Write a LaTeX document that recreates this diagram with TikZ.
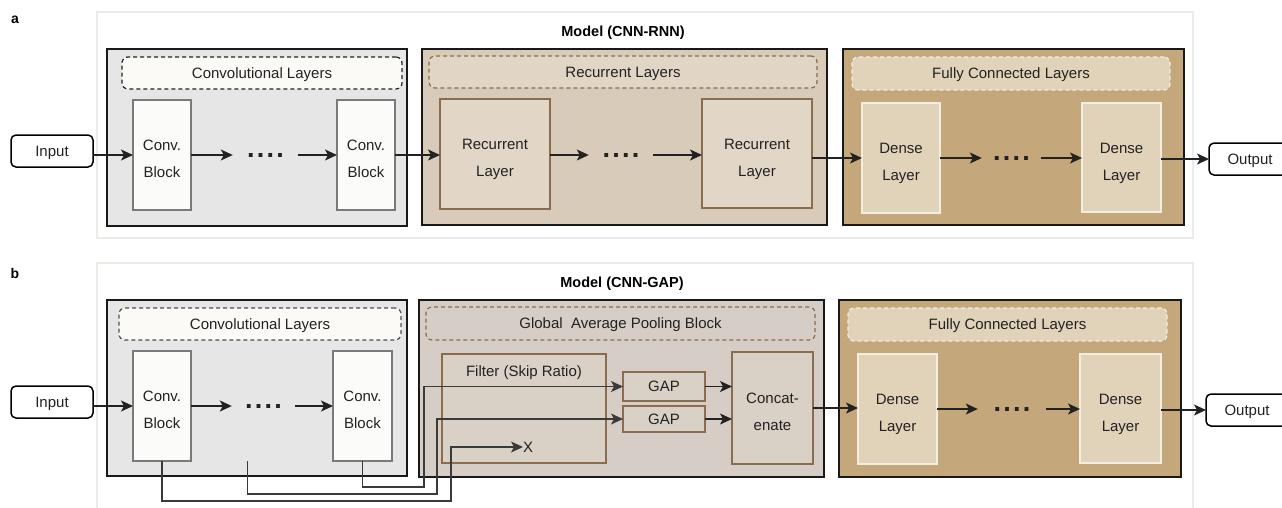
\documentclass[tikz,border=0pt]{standalone}
\usepackage{fontspec}
\setmainfont{Liberation Sans}
\usetikzlibrary{arrows.meta}

\definecolor{ink}{HTML}{222222}
\definecolor{wire}{HTML}{3A3A3A}
\definecolor{framec}{HTML}{ECEBE6}
\definecolor{convfill}{HTML}{E6E6E6}
\definecolor{convhead}{HTML}{FBFAF7}
\definecolor{blockfill}{HTML}{FBFBF9}
\definecolor{blockedge}{HTML}{7A7A7A}
\definecolor{recfill}{HTML}{D9CBB9}
\definecolor{rechead}{HTML}{E1D5C5}
\definecolor{recbox}{HTML}{E2D6C6}
\definecolor{brownedge}{HTML}{8A6C4E}
\definecolor{gapfill}{HTML}{D6CEC6}
\definecolor{gapbox}{HTML}{D9D0C6}
\definecolor{fcfill}{HTML}{C4A77B}
\definecolor{fchead}{HTML}{E1D3BA}
\definecolor{fcedge}{HTML}{F3EDE2}

\begin{document}
\begin{tikzpicture}[x=1pt,y=-1pt,
  sz/.style 2 args={minimum width=#1, minimum height=#2, inner sep=0pt, outer sep=0pt},
  txt/.style={font=\fontsize{15}{27}\selectfont, text=ink, align=center,
              text height=11pt, text depth=0.5pt},
  twoline/.style={txt, text height=45pt, text depth=0pt},
  ttl/.style={font=\fontsize{14.5}{17}\selectfont\bfseries, text=black},
  frame/.style={draw=framec, fill=white, line width=1.5pt},
  panel/.style={draw=black!90, line width=2pt},
  dashhead/.style={rounded corners=6pt, dash pattern=on 4pt off 3pt, line width=1.2pt},
  convblock/.style={draw=blockedge, fill=blockfill, line width=1.3pt},
  recblock/.style={draw=brownedge, fill=recbox, line width=1.3pt},
  gapblock/.style={draw=brownedge, fill=gapbox, line width=1.3pt},
  denseblock/.style={draw=fcedge, fill=fchead, line width=1.2pt},
  io/.style={draw=black, fill=white, rounded corners=5pt, line width=1.5pt},
  dotsnode/.style={font=\fontsize{27}{27}\selectfont\bfseries, text=ink, inner sep=0pt},
  arr/.style={draw=ink, line width=1.4pt, -{Stealth[length=12pt, width=11pt, inset=3pt]}},
  route/.style={draw=wire, line width=1.3pt, -{Stealth[length=12pt, width=11pt, inset=3pt]}}
]
\path[use as bounding box, clip] (0,0) rectangle (1282,507);
\fill[white] (0,0) rectangle (1282,507);

\newcommand{\fourdots}{.\hspace{2.2pt}.\hspace{2.2pt}.\hspace{2.2pt}.}

% ---------------- panel a: CNN-RNN ----------------
\node[frame, sz={1096}{226}] (frameA) at (645,125) {};
\node[font=\fontsize{14}{16}\selectfont\bfseries] (labA) at (15,20) {a};
\node[ttl] (titleA) at (623,33) {Model (CNN-RNN)};

% convolutional stage
\node[panel, fill=convfill, sz={300}{177}] (convA) at (257,137.5) {};
\node[dashhead, draw=ink, fill=convhead, sz={280}{32}, txt] (convHeadA) at (262,73) {Convolutional Layers};
\node[convblock, sz={58}{110}, twoline] (c1a) at (162,155) {Conv.\\Block};
\node[convblock, sz={58}{110}, twoline] (c2a) at (366,155) {Conv.\\Block};
\node[dotsnode, minimum width=65pt] (da1) at (265.5,155) {\fourdots};

% recurrent stage
\node[panel, fill=recfill, sz={405}{176}] (recA) at (624.5,137) {};
\node[dashhead, draw=brownedge, fill=rechead, sz={388}{32}, txt] (recHeadA) at (623,72) {Recurrent Layers};
\node[recblock, sz={110}{110}, twoline] (r1a) at (495,154) {Recurrent\\Layer};
\node[recblock, sz={110}{109}, twoline] (r2a) at (757,153.5) {Recurrent\\Layer};
\node[dotsnode, minimum width=64pt] (da2) at (621,155) {\fourdots};

% fully connected stage
\node[panel, fill=fcfill, sz={341}{176}] (fcA) at (1013.5,137) {};
\node[dashhead, draw=fcedge, fill=fchead, sz={318}{33}, txt] (fcHeadA) at (1011,73.5) {Fully Connected Layers};
\node[denseblock, sz={78}{110}, twoline] (d1a) at (901,158) {Dense\\Layer};
\node[denseblock, sz={79}{109}, twoline] (d2a) at (1121.5,157.5) {Dense\\Layer};
\node[dotsnode, minimum width=59pt] (da3) at (1011.5,158) {\fourdots};

% input / output
\node[io, sz={82}{32}, txt] (inA) at (52,151) {Input};
\node[io, sz={82}{32}, txt] (outA) at (1250,159) {Output};

\draw[arr] (c1a.west -| inA.east) -- (c1a.west);
\draw[arr] (c1a.east) -- (da1.west);
\draw[arr] (da1.east) -- (c2a.west);
\draw[arr] (c2a.east) -- (c2a.east -| r1a.west);
\draw[arr] (r1a.east |- da2) -- (da2.west);
\draw[arr] (da2.east) -- (da2.east -| r2a.west);
\draw[arr] (d1a.west -| r2a.east) -- (d1a.west);
\draw[arr] (d1a.east) -- (da3.west);
\draw[arr] (da3.east) -- (da3.east -| d2a.west);
\draw[arr] (outA.west -| d2a.east) -- (outA.west);

% ---------------- panel b: CNN-GAP ----------------
\node[frame, sz={1096}{249}] (frameB) at (645,387.5) {};
\node[font=\fontsize{14}{16}\selectfont\bfseries] (labB) at (15,273) {b};
\node[ttl] (titleB) at (622,284) {Model (CNN-GAP)};

% convolutional stage
\node[panel, fill=convfill, sz={300}{176}] (convB) at (257,388) {};
\node[dashhead, draw=ink!80, fill=convhead, sz={282}{32}, txt] (convHeadB) at (260,324) {Convolutional Layers};
\node[convblock, sz={58}{110}, twoline] (c1b) at (162,406) {Conv.\\Block};
\node[convblock, sz={59}{110}, twoline] (c2b) at (362.5,406) {Conv.\\Block};
\node[dotsnode, minimum width=63pt] (db1) at (263.5,406) {\fourdots};

% global average pooling stage
\node[panel, fill=gapfill, sz={405}{177}] (gapP) at (621.5,388.5) {};
\node[dashhead, draw=brownedge, fill=gapfill, sz={389}{33}, txt] (gapHead) at (620.5,323.5) {Global\ \ Average Pooling Block};
\node[gapblock, sz={164}{109}] (filter) at (524,408.5) {};
\node[txt] (filterTxt) at (524,371) {Filter (Skip Ratio)};
\node[gapblock, sz={82}{29}, txt] (gap1) at (664,386.5) {GAP};
\node[gapblock, sz={82}{26}, txt] (gap2) at (664,419) {GAP};
\node[gapblock, sz={81}{112}, twoline] (concat) at (772.5,408) {Concat-\\enate};
\node[txt, anchor=west, inner sep=0pt] (xmark) at (523,447) {X};

% fully connected stage
\node[panel, fill=fcfill, sz={342}{177}] (fcB) at (1010,388.5) {};
\node[dashhead, draw=fcedge, fill=fchead, sz={319}{33}, txt] (fcHeadB) at (1007.5,324.5) {Fully Connected Layers};
\node[denseblock, sz={79}{110}, twoline] (d1b) at (897.5,409) {Dense\\Layer};
\node[denseblock, sz={81}{109}, twoline] (d2b) at (1120.5,408.5) {Dense\\Layer};
\node[dotsnode, minimum width=68pt] (db2) at (1012,409) {\fourdots};

% input / output
\node[io, sz={82}{32}, txt] (inB) at (52,402) {Input};
\node[io, sz={82}{32}, txt] (outB) at (1247,410) {Output};

\draw[arr] (c1b.west -| inB.east) -- (c1b.west);
\draw[arr] (c1b.east) -- (db1.west);
\draw[arr] (db1.east) -- (c2b.west);
\draw[arr] (gap1.east) -- (gap1.east -| concat.west);
\draw[arr] (gap2.east) -- (gap2.east -| concat.west);
\draw[arr] (concat.east) -- (concat.east -| d1b.west);
\draw[arr] (d1b.east) -- (db2.west);
\draw[arr] (db2.east) -- (db2.east -| d2b.west);
\draw[arr] (outB.west -| d2b.east) -- (outB.west);

% skip connections routed below the convolutional stage
\coordinate (tapMid) at ([xshift=-16pt]db1.center |- c1b.south);
\draw[route] (c2b.south) |- (424,487) |- (gap1.west);
\draw[route] (tapMid) |- (437,494) |- (gap2.west);
\draw[route] (c1b.south) |- (451,501) |- (xmark.west);
\end{tikzpicture}
\end{document}
